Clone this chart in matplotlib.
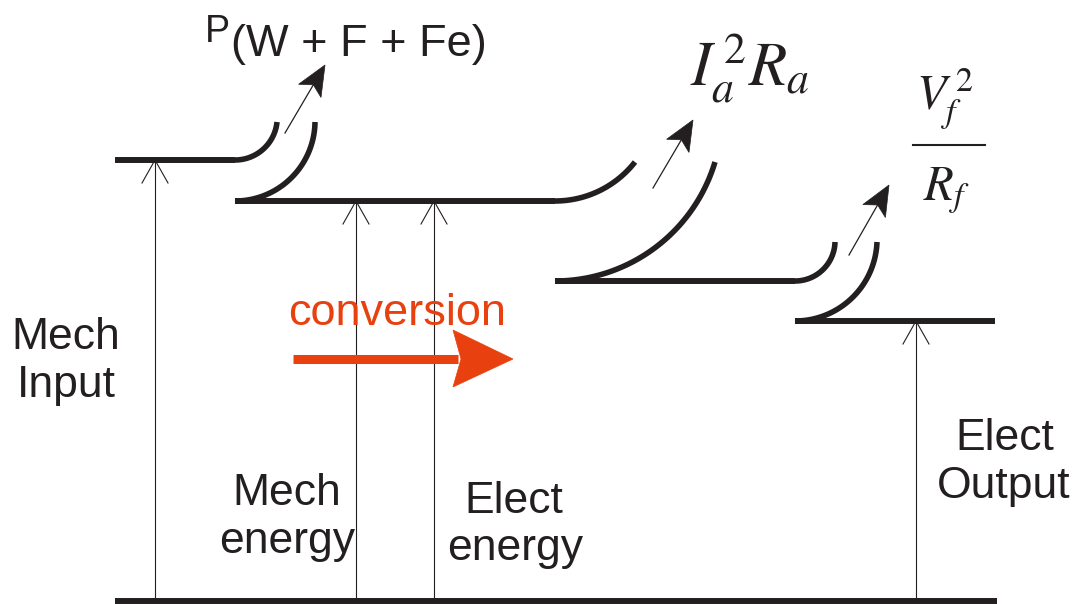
"""Power flow diagram of a DC generator: mech input -> losses -> elect output."""
import numpy as np
import matplotlib
matplotlib.use("Agg")
import matplotlib.pyplot as plt
from matplotlib.patches import Polygon

INK = "#231F20"
ORANGE = "#E8410F"

# power levels (image pixel coordinates, y grows downwards)
level_y = [160, 201, 281, 321]
level_x0 = [115, 235, 555, 795]
level_x1 = [235, 555, 795, 995]
base_y = 601
base_x = (115, 997)

# ends of the curved loss branches
inner_ends = [(277, 122), (635, 162), (835, 242)]
outer_ends = [(315, 122), (715, 162), (877, 242)]

# thin loss arrows (tail, tip)
loss_tails = [(285, 133), (653, 188), (849, 255)]
loss_tips = [(325, 65), (693, 120), (889, 185)]

# thin vertical arrows from the baseline up to a level
up_x = [155, 356, 434, 916]
up_tip = [160, 201, 201, 321]

# word labels: (text, x centre, baseline)
labels = [
    ("Mech", 66, 349), ("Input", 66, 397),
    ("Mech", 287, 505), ("energy", 287, 553),
    ("Elect", 514, 513), ("energy", 515, 560),
    ("Elect", 1005, 450), ("Output", 1004, 498),
]


def arc(x0, y0, x1, y1, n=60):
    # circular arc leaving (x0, y0) horizontally and bending up to (x1, y1)
    dx, dy = x1 - x0, y0 - y1
    r = (dx * dx + dy * dy) / (2 * dy)
    th = np.arctan2(dx, r - dy)
    t = np.linspace(0, th, n)
    return x0 + r * np.sin(t), y0 - r + r * np.cos(t)


def loss_arrow(ax, tail, tip, length=30, half=13, notch=7):
    tail, tip = np.array(tail, float), np.array(tip, float)
    u = (tip - tail) / np.hypot(*(tip - tail))
    n = np.array([-u[1], u[0]])
    back = tip - (length - notch) * u
    ax.plot([tail[0], back[0]], [tail[1], back[1]], color=INK, lw=0.9)
    pts = [tip, tip - length * u + half * n, back, tip - length * u - half * n]
    ax.add_patch(Polygon(pts, closed=True, facecolor=INK, edgecolor=INK, lw=0.5))


def main():
    plt.rcParams["font.family"] = ["Liberation Sans", "DejaVu Sans"]
    plt.rcParams["mathtext.fontset"] = "stix"

    fig = plt.figure(figsize=(10.82, 6.04), dpi=100)
    ax = fig.add_axes([0, 0, 1, 1])
    ax.set_xlim(0, 1082)
    ax.set_ylim(604, 0)
    ax.axis("off")

    thick = 4.3
    ax.plot(base_x, [base_y, base_y], color=INK, lw=thick, solid_capstyle="butt")
    for y, x0, x1 in zip(level_y, level_x0, level_x1):
        ax.plot([x0, x1], [y, y], color=INK, lw=thick, solid_capstyle="butt")

    for i in range(3):
        xs, ys = arc(level_x1[i], level_y[i], *inner_ends[i])
        ax.plot(xs, ys, color=INK, lw=4.0, solid_capstyle="butt")
        xs, ys = arc(level_x0[i + 1], level_y[i + 1], *outer_ends[i])
        ax.plot(xs, ys, color=INK, lw=4.0, solid_capstyle="butt")
        loss_arrow(ax, loss_tails[i], loss_tips[i])

    for x, top in zip(up_x, up_tip):
        ax.plot([x, x], [base_y, top], color=INK, lw=0.8)
        ax.plot([x - 13, x, x + 13], [top + 23, top, top + 23], color=INK, lw=0.8)

    for txt, x, y in labels:
        ax.text(x, y, txt, ha="center", va="baseline", fontsize=32, color=INK)

    # conversion arrow
    ax.text(397, 325, "conversion", ha="center", va="baseline", fontsize=32.5, color=ORANGE)
    ax.plot([293, 458], [359, 359], color=ORANGE, lw=6.5, solid_capstyle="butt")
    ax.add_patch(Polygon([(453, 330), (513, 359), (453, 387), (461, 359)], closed=True,
                         facecolor=ORANGE, edgecolor=ORANGE, lw=0.5))

    # loss labels
    ax.text(205, 42, "P", ha="left", va="baseline", fontsize=27, color=INK)
    ax.text(231, 56, "(W + F + Fe)", ha="left", va="baseline", fontsize=32.5, color=INK)
    ax.text(690, 86, r"$I_a^{\,2}R_a$", ha="left", va="baseline", fontsize=45, color=INK)
    ax.text(945, 110, r"$V_f^{\,2}$", ha="center", va="baseline", fontsize=35, color=INK)
    ax.plot([913, 985], [145, 145], color=INK, lw=1.5)
    ax.text(946, 200, r"$R_f$", ha="center", va="baseline", fontsize=35, color=INK)

    fig.savefig("out.png", dpi=100, facecolor="white")


if __name__ == "__main__":
    main()
